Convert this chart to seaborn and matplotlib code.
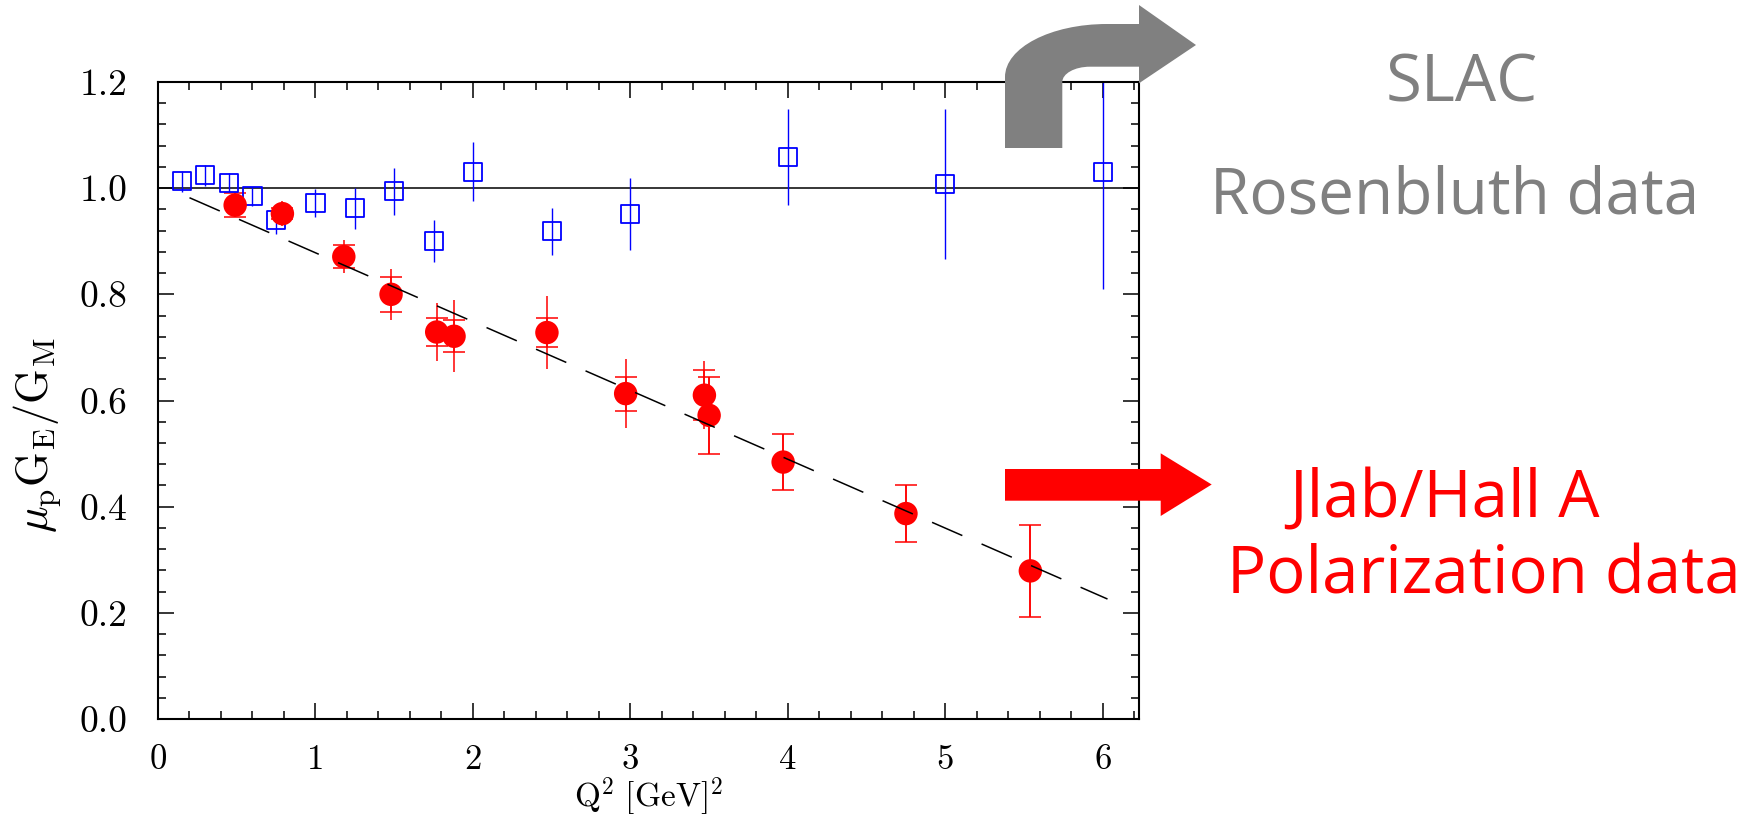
import matplotlib
matplotlib.use("Agg")
import matplotlib.pyplot as plt
import seaborn as sns
from matplotlib.path import Path
from matplotlib.patches import PathPatch
from matplotlib.transforms import Affine2D
from matplotlib.ticker import MultipleLocator

# ---------------- data ----------------
slac_q2 = [0.15, 0.30, 0.45, 0.60, 0.75, 1.00, 1.25, 1.50, 1.75, 2.00, 2.50, 3.00, 4.00, 5.00, 6.00]
slac_ratio = [1.013, 1.024, 1.010, 0.985, 0.940, 0.972, 0.962, 0.994, 0.900, 1.031, 0.919, 0.952, 1.059, 1.008, 1.030]
slac_err = [0.020, 0.020, 0.018, 0.018, 0.026, 0.026, 0.039, 0.044, 0.040, 0.056, 0.044, 0.068, 0.090, 0.141, 0.220]

jlab_q2 = [0.49, 0.79, 1.18, 1.48, 1.77, 1.88, 2.47, 2.97, 3.47, 3.50, 3.97, 4.75, 5.54]
jlab_ratio = [0.968, 0.952, 0.871, 0.800, 0.729, 0.721, 0.728, 0.613, 0.610, 0.572, 0.484, 0.387, 0.279]
jlab_err_stat = [0.022, 0.010, 0.022, 0.033, 0.026, 0.030, 0.027, 0.032, 0.047, 0.072, 0.052, 0.053, 0.087]
jlab_err_tot = [0.023, 0.023, 0.031, 0.048, 0.054, 0.068, 0.068, 0.065, 0.064, 0.072, 0.052, 0.053, 0.087]

fit_q2 = [0.20, 6.03]
fit_ratio = [0.982, 0.226]

x_ticks = [0, 1, 2, 3, 4, 5, 6]
x_tick_labels = ["0", "1", "2", "3", "4", "5", "6"]
y_ticks = [0.0, 0.2, 0.4, 0.6, 0.8, 1.0, 1.2]
y_tick_labels = ["0.0", "0.2", "0.4", "0.6", "0.8", "1.0", "1.2"]

x_label = r"${\rm Q}^2\ [{\rm GeV}]^2$"
y_label = r"$\mu_{\rm p}{\rm G}_{\rm E}/{\rm G}_{\rm M}$"

# ---------------- style ----------------
sns.set_theme(style="ticks")
plt.rcParams["font.family"] = ["cmr10", "DejaVu Serif"]
plt.rcParams["mathtext.fontset"] = "cm"
plt.rcParams["axes.formatter.use_mathtext"] = True
plt.rcParams["lines.scale_dashes"] = False

W, H = 1744, 819
fig = plt.figure(figsize=(W / 100, H / 100), dpi=100)
fig.patch.set_facecolor("white")
ax = fig.add_axes([158 / W, 1 - 719 / H, (1139 - 158) / W, (719 - 82) / H])
ax.set_facecolor("white")

BLUE = "#0000FF"
RED = "#FF0000"
GRAY = "#808080"

# reference line
ax.axhline(1.0, color="black", lw=1.1, zorder=1.5)

# SLAC Rosenbluth data
ax.errorbar(slac_q2, slac_ratio, yerr=slac_err, fmt="none", ecolor=BLUE,
            elinewidth=1.0, capsize=0, zorder=2)
sns.scatterplot(x=slac_q2, y=slac_ratio, marker="s", s=170, facecolor="none",
                edgecolor=BLUE, linewidth=1.3, ax=ax, zorder=3)

# JLab polarization data
ax.errorbar(jlab_q2, jlab_ratio, yerr=jlab_err_tot, fmt="none", ecolor=RED,
            elinewidth=1.1, capsize=0, zorder=2)
ax.errorbar(jlab_q2, jlab_ratio, yerr=jlab_err_stat, fmt="none", ecolor=RED,
            elinewidth=1.1, capsize=8.2, capthick=1.1, zorder=2)
sns.scatterplot(x=jlab_q2, y=jlab_ratio, marker="o", s=285, color=RED,
                edgecolor="none", linewidth=0, ax=ax, zorder=4)

# fit line
sns.lineplot(x=fit_q2, y=fit_ratio, color="black", linewidth=1.1,
             linestyle=(0, (23.8, 15.1)), ax=ax, zorder=5)

# axes
ax.set_xlim(0, 6.23)
ax.set_ylim(0, 1.2)
ax.set_xticks(x_ticks, labels=x_tick_labels)
ax.set_yticks(y_ticks, labels=y_tick_labels)
ax.xaxis.set_minor_locator(MultipleLocator(0.2))
ax.yaxis.set_minor_locator(MultipleLocator(0.04))
ax.tick_params(which="both", direction="in", top=True, right=True,
               width=1.1, color="black", labelcolor="black")
ax.tick_params(which="major", length=11.5)
ax.tick_params(which="minor", length=5.8)
ax.tick_params(axis="x", pad=18, labelsize=25)
ax.tick_params(axis="y", pad=22, labelsize=27)
for sp in ax.spines.values():
    sp.set_visible(True)
    sp.set_color("black")
    sp.set_linewidth(1.5)

ax.set_xlabel(x_label, fontsize=24, color="black")
ax.xaxis.label.set_va("center")
ax.xaxis.set_label_coords(0.5, (719 - 797) / 637)
ax.set_ylabel(y_label, fontsize=32, color="black")
ax.yaxis.label.set_va("center")
ax.yaxis.label.set_ha("center")
ax.yaxis.set_label_coords(-0.122, 0.446)

# ---------------- annotations (pixel layout, y from top) ----------------
pix = Affine2D().scale(1 / W, -1 / H).translate(0, 1) + fig.transFigure

gray_verts = [(1005, 148), (1005, 77),
              (1005, 47.7), (1050.7, 24), (1107, 24),
              (1139, 24), (1139, 5), (1196, 45), (1139, 83.3), (1139, 66.7), (1090, 66.7),
              (1074.5, 66.7), (1062.3, 73.7), (1062.3, 82),
              (1062.3, 148), (1005, 148)]
gray_codes = [Path.MOVETO, Path.LINETO,
              Path.CURVE4, Path.CURVE4, Path.CURVE4,
              Path.LINETO, Path.LINETO, Path.LINETO, Path.LINETO, Path.LINETO, Path.LINETO,
              Path.CURVE4, Path.CURVE4, Path.CURVE4,
              Path.LINETO, Path.CLOSEPOLY]
fig.add_artist(PathPatch(Path(gray_verts, gray_codes), transform=pix,
                         facecolor=GRAY, edgecolor="none", zorder=10))

red_verts = [(1005, 469), (1160.7, 469), (1160.7, 453.3), (1211.7, 484.5),
             (1160.7, 516), (1160.7, 500.7), (1005, 500.7), (1005, 469)]
red_codes = [Path.MOVETO] + [Path.LINETO] * 6 + [Path.CLOSEPOLY]
fig.add_artist(PathPatch(Path(red_verts, red_codes), transform=pix,
                         facecolor=RED, edgecolor="none", zorder=10))

afont = ["Open Sans", "DejaVu Sans"]
fig.text(1462, 102, "SLAC", transform=pix, ha="center", va="baseline",
         fontsize=47, color=GRAY, family=afont)
fig.text(1455, 213, "Rosenbluth data", transform=pix, ha="center", va="baseline",
         fontsize=46, color=GRAY, family=afont)
fig.text(1444, 517, "Jlab/Hall A", transform=pix, ha="center", va="baseline",
         fontsize=47, color=RED, family=afont)
fig.text(1484, 593, "Polarization data", transform=pix, ha="center", va="baseline",
         fontsize=47, color=RED, family=afont)

fig.savefig("out.png", dpi=100, facecolor="white")
